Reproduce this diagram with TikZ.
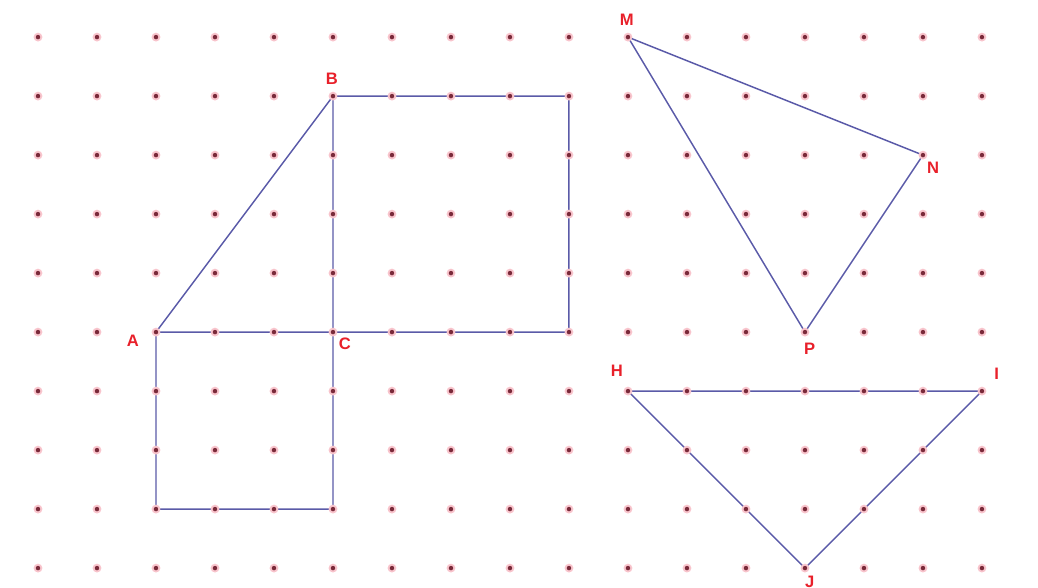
\documentclass[tikz,border=0pt]{standalone}
\usepackage{fontspec}
\setsansfont{Liberation Sans}
\usetikzlibrary{positioning}
\definecolor{Dot}{HTML}{7A2A3A}
\definecolor{Halo}{HTML}{F8C4CC}
\definecolor{Edge}{HTML}{5A5AA8}
\definecolor{Mark}{HTML}{E8202A}

\begin{document}
\begin{tikzpicture}[y=-1cm,font=\sffamily\bfseries\footnotesize]
    \useasboundingbox (-0.644,-0.629) rectangle (16.95,9.337);
    \tikzset{lbl/.style={text=Mark,inner sep=0pt},side/.style={Edge,line width=0.7pt}}
    % vertices
    \foreach \n/\p in {A/{2,5},B/{5,1},C/{5,5},D/{2,8},E/{5,8},F/{9,1},G/{9,5},M/{10,0},N/{15,2},P/{13,5},H/{10,6},I/{16,6},J/{13,9}}{\coordinate (\n) at (\p);}
    % figures
    \draw[side] (A) -- (B) -- (F) -- (G) -- (A) -- (D) -- (E) -- (C) -- (B);
    \draw[side] (M) -- (N) -- (P) -- cycle;
    \draw[side] (H) -- (I) -- (J) -- cycle;
    % dot grid
    \foreach \i in {0,...,16}{\foreach \j in {0,...,9}{
      \fill[Halo] (\i,\j) circle (0.075);
      \fill[Dot] (\i,\j) circle (0.038);}}
    % labels
    \node[lbl] (labA) at (1.61,5.15) {A};
    \node[lbl] (labB) at (4.98,0.70) {B};
    \node[lbl] (labC) at (5.20,5.20) {C};
    \node[lbl] (labM) at (9.98,-0.29) {M};
    \node[lbl] (labN) at (15.17,2.21) {N};
    \node[lbl] (labP) at (13.08,5.29) {P};
    \node[lbl] (labH) at (9.81,5.65) {H};
    \node[lbl] (labI) at (16.25,5.71) {I};
    \node[lbl] (labJ) at (13.08,9.23) {J};
\end{tikzpicture}
\end{document}
